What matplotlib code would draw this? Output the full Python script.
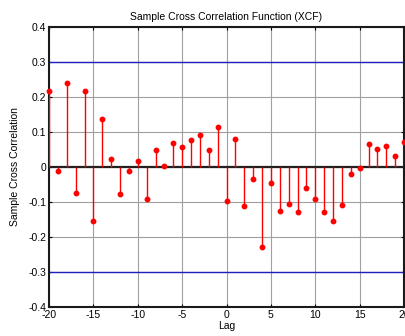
import matplotlib
matplotlib.use("Agg")
import matplotlib.pyplot as plt
import numpy as np

plt.rcParams['font.family'] = ['Liberation Sans', 'DejaVu Sans']

lags = list(range(-20, 21))
xcf = [0.216, -0.010, 0.239, -0.075, 0.216, -0.155, 0.136, 0.024, -0.077, -0.010,
       0.016, -0.090, 0.049, 0.002, 0.069, 0.057, 0.078, 0.091, 0.048, 0.113,
       -0.096, 0.080, -0.112, -0.035, -0.229, -0.047, -0.127, -0.105, -0.129, -0.061,
       -0.091, -0.129, -0.154, -0.109, -0.019, -0.004, 0.066, 0.052, 0.061, 0.031,
       0.071]
bounds = [0.3, -0.3]
xticks = [-20, -15, -10, -5, 0, 5, 10, 15, 20]
yticks = [-0.4, -0.3, -0.2, -0.1, 0, 0.1, 0.2, 0.3, 0.4]
ytick_labels = ['-0.4', '-0.3', '-0.2', '-0.1', '0', '0.1', '0.2', '0.3', '0.4']

fig = plt.figure(figsize=(4.06, 3.36), dpi=100)
ax = fig.add_axes([0.1207, 0.0863, 0.8744, 0.8333])

ax.set_xlim(-20, 20)
ax.set_ylim(-0.4, 0.4)
ax.set_xticks(xticks)
ax.set_xticklabels([str(t) for t in xticks])
ax.set_yticks(yticks)
ax.set_yticklabels(ytick_labels)

ax.grid(True, color='#a0a0a0', linewidth=0.8, linestyle='-')
ax.set_axisbelow(True)

for b in bounds:
    ax.axhline(b, color='#2020c0', linewidth=1.0, zorder=2)
ax.axhline(0, color='#202020', linewidth=1.6, zorder=2)

ax.vlines(lags, 0, xcf, color='red', linewidth=1.0, zorder=3)
ax.plot(lags, xcf, 'o', color='red', markersize=3.2, zorder=4, clip_on=False)

ax.tick_params(direction='in', length=2.5, width=0.8, labelsize=7.5, top=True, right=True, pad=2)
for s in ax.spines.values():
    s.set_linewidth(1.5)
    s.set_color('#1a1a1a')

ax.set_title('Sample Cross Correlation Function (XCF)', fontsize=7.5, pad=5)
ax.set_xlabel('Lag', fontsize=7.5, labelpad=1)
ax.set_ylabel('Sample Cross Correlation', fontsize=7.5, labelpad=6)

fig.savefig('out.png', dpi=100)
